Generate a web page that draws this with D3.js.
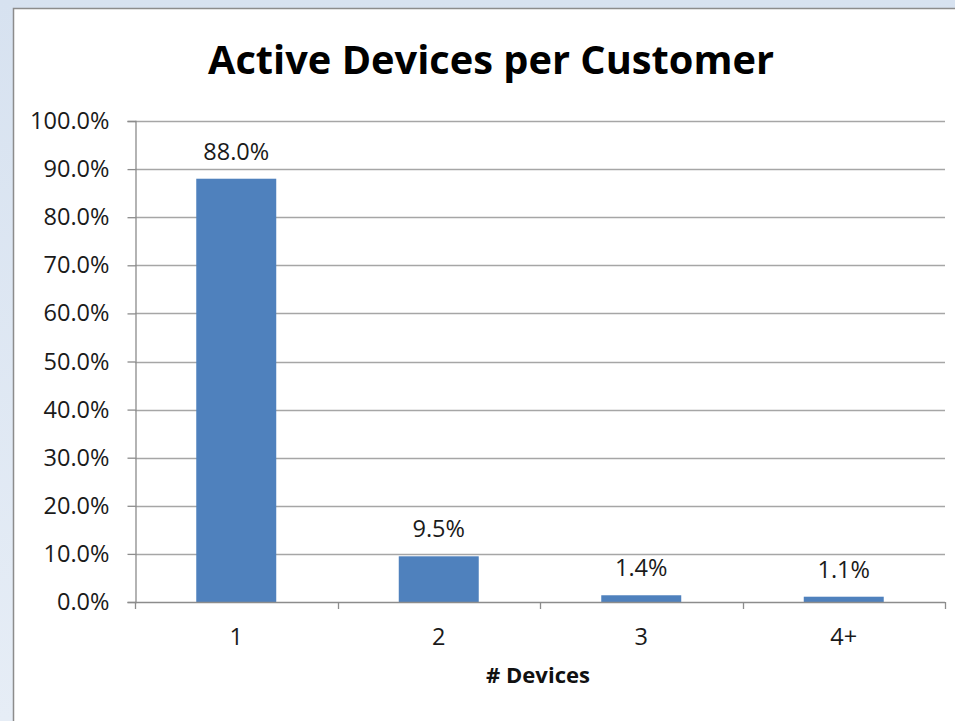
<!DOCTYPE html>
<html>
<head>
<meta charset="utf-8">
<script src="https://cdn.jsdelivr.net/npm/d3@7"></script>
<style>
  html, body { margin: 0; padding: 0; }
  body { width: 955px; height: 721px; overflow: hidden;
         background: linear-gradient(to bottom, #d7e2f0, #e6edf6); }
  svg { display: block; }
</style>
</head>
<body>
<svg id="chart" width="955" height="721"></svg>
<script>
// Share of customers by number of active devices
const categories = ["1", "2", "3", "4+"];
const shares = [88.0, 9.5, 1.4, 1.1];
const yTicks = [0, 10, 20, 30, 40, 50, 60, 70, 80, 90, 100];
const chartTitle = "Active Devices per Customer";
const xTitle = "# Devices";

const font = "'Open Sans', Lato, sans-serif";
const svg = d3.select("#chart");

// pick a font size so that a sample string spans the wanted width
function sizeFor(sample, width, weight) {
  const t = svg.append("text").attr("font-family", font)
    .attr("font-size", 100).attr("font-weight", weight).text(sample);
  const w = t.node().getComputedTextLength();
  t.remove();
  return 100 * width / w;
}
const labelSize = Math.min(24, sizeFor("88.0%", 66, "normal"));
const titleSize = sizeFor(chartTitle, 566, "bold");
const axisTitleSize = sizeFor(xTitle, 104, "bold");

// chart frame
svg.append("rect")
  .attr("x", 13.5).attr("y", 8.5)
  .attr("width", 960).attr("height", 730)
  .attr("fill", "#ffffff")
  .attr("stroke", "#8c8c8c").attr("stroke-width", 1.5);

const plot = { left: 135, right: 945, top: 121, bottom: 602 };

const x = d3.scaleBand()
  .domain(categories)
  .range([plot.left, plot.right])
  .paddingInner(0.605).paddingOuter(0.3025);

const xBand = d3.scaleBand().domain(categories).range([plot.left, plot.right]);

const y = d3.scaleLinear().domain([0, 100]).range([plot.bottom, plot.top]);

// horizontal gridlines
svg.append("g")
  .selectAll("line")
  .data(yTicks.filter(d => d > 0))
  .join("line")
  .attr("x1", plot.left).attr("x2", plot.right)
  .attr("y1", d => Math.round(y(d)) + 0.5).attr("y2", d => Math.round(y(d)) + 0.5)
  .attr("stroke", "#a6a6a6").attr("stroke-width", 1.3);

// y axis
const yAxis = svg.append("g")
  .attr("transform", `translate(${plot.left + 0.5},0)`)
  .call(d3.axisLeft(y).tickValues(yTicks).tickSize(8).tickPadding(18)
        .tickFormat(d => d.toFixed(1) + "%"));
yAxis.select(".domain").attr("stroke", "#8c8c8c").attr("stroke-width", 1.3);
yAxis.selectAll(".tick line").attr("stroke", "#8c8c8c").attr("stroke-width", 1.3);
yAxis.selectAll(".tick text")
  .attr("font-family", font).attr("font-size", labelSize).attr("fill", "#1a1a1a");

// bars
svg.append("g")
  .selectAll("rect")
  .data(categories.map((c, i) => ({ c, v: shares[i] })))
  .join("rect")
  .attr("x", d => x(d.c))
  .attr("width", x.bandwidth())
  .attr("y", d => y(d.v))
  .attr("height", d => y(0) - y(d.v))
  .attr("fill", "#4f81bd");

// value labels
svg.append("g")
  .selectAll("text")
  .data(categories.map((c, i) => ({ c, v: shares[i] })))
  .join("text")
  .attr("x", d => x(d.c) + x.bandwidth() / 2)
  .attr("y", d => y(d.v) - 19)
  .attr("text-anchor", "middle")
  .attr("font-family", font).attr("font-size", labelSize).attr("fill", "#1a1a1a")
  .text(d => d.v.toFixed(1) + "%");

// x axis baseline with ticks at category boundaries
const xAxis = svg.append("g");
xAxis.append("line")
  .attr("x1", plot.left).attr("x2", plot.right)
  .attr("y1", plot.bottom + 0.5).attr("y2", plot.bottom + 0.5)
  .attr("stroke", "#8c8c8c").attr("stroke-width", 1.3);
const edges = categories.map(c => xBand(c)).concat([plot.right]);
xAxis.selectAll("line.tk")
  .data(edges)
  .join("line").attr("class", "tk")
  .attr("x1", d => Math.round(d) + 0.5).attr("x2", d => Math.round(d) + 0.5)
  .attr("y1", plot.bottom).attr("y2", plot.bottom + 7)
  .attr("stroke", "#8c8c8c").attr("stroke-width", 1.3);
xAxis.selectAll("text")
  .data(categories)
  .join("text")
  .attr("x", d => xBand(d) + xBand.bandwidth() / 2)
  .attr("y", 645)
  .attr("text-anchor", "middle")
  .attr("font-family", font).attr("font-size", labelSize).attr("fill", "#1a1a1a")
  .text(d => d);

// axis title
svg.append("text")
  .attr("x", 538)
  .attr("y", 683)
  .attr("text-anchor", "middle")
  .attr("font-family", font).attr("font-size", axisTitleSize).attr("font-weight", "bold")
  .attr("fill", "#111")
  .text(xTitle);

// chart title
svg.append("text")
  .attr("x", 491)
  .attr("y", 74)
  .attr("text-anchor", "middle")
  .attr("font-family", font).attr("font-size", titleSize).attr("font-weight", "bold")
  .attr("fill", "#000")
  .text(chartTitle);
</script>
</body>
</html>
